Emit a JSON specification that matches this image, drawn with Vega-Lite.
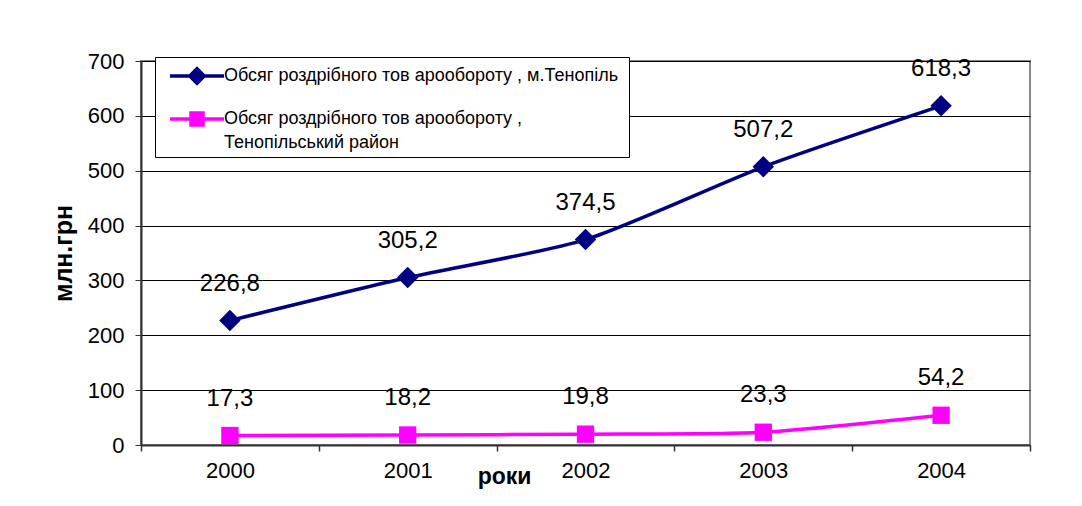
{
  "$schema": "https://vega.github.io/schema/vega-lite/v6.json",
  "width": 889,
  "height": 384,
  "autosize": {"type": "none"},
  "padding": {"left": 141, "top": 61, "right": 52, "bottom": 61},
  "background": "white",
  "config": {
    "font": "Liberation Sans",
    "locale": {"number": {"decimal": ",", "thousands": " ", "grouping": [3], "currency": ["", ""]}},
    "view": {"stroke": "#888888", "strokeWidth": 2}
  },
  "data": {
    "values": [
      {"year": "2000", "series": "Обсяг роздрібного тов арообороту ,  м.Тенопіль", "value": 226.8},
      {"year": "2001", "series": "Обсяг роздрібного тов арообороту ,  м.Тенопіль", "value": 305.2},
      {"year": "2002", "series": "Обсяг роздрібного тов арообороту ,  м.Тенопіль", "value": 374.5},
      {"year": "2003", "series": "Обсяг роздрібного тов арообороту ,  м.Тенопіль", "value": 507.2},
      {"year": "2004", "series": "Обсяг роздрібного тов арообороту ,  м.Тенопіль", "value": 618.3},
      {"year": "2000", "series": "Обсяг роздрібного тов арообороту , Тенопільський район", "value": 17.3},
      {"year": "2001", "series": "Обсяг роздрібного тов арообороту , Тенопільський район", "value": 18.2},
      {"year": "2002", "series": "Обсяг роздрібного тов арообороту , Тенопільський район", "value": 19.8},
      {"year": "2003", "series": "Обсяг роздрібного тов арообороту , Тенопільський район", "value": 23.3},
      {"year": "2004", "series": "Обсяг роздрібного тов арообороту , Тенопільський район", "value": 54.2}
    ]
  },
  "encoding": {
    "x": {
      "field": "year",
      "type": "ordinal",
      "scale": {"paddingInner": 0, "paddingOuter": 0},
      "axis": {
        "title": "роки",
        "titleFontSize": 23,
        "titleFontWeight": "bold",
        "titleColor": "black",
        "titleX": 363,
        "titleY": 31,
        "titleAlign": "center",
        "titleBaseline": "middle",
        "labelAngle": 0,
        "labelFontSize": 22,
        "labelColor": "black",
        "labelPadding": 9,
        "tickBand": "extent",
        "tickSize": 6,
        "tickColor": "#333333",
        "tickWidth": 1.5,
        "domainColor": "#333333",
        "domainWidth": 2,
        "grid": false
      }
    },
    "y": {
      "field": "value",
      "type": "quantitative",
      "scale": {"domain": [0, 700], "nice": false},
      "axis": {
        "title": "млн.грн",
        "titleFontSize": 25,
        "titleFontWeight": "bold",
        "titleColor": "black",
        "titleX": -78,
        "titleY": 192,
        "titleAngle": -90,
        "titleAlign": "center",
        "titleBaseline": "middle",
        "values": [0, 100, 200, 300, 400, 500, 600, 700],
        "labelFontSize": 22,
        "labelColor": "black",
        "labelPadding": 11,
        "tickSize": 6,
        "tickColor": "#333333",
        "domainColor": "#333333",
        "domainWidth": 2,
        "grid": true,
        "gridColor": "black",
        "gridWidth": 1
      }
    }
  },
  "layer": [
    {
      "mark": {"type": "line", "strokeWidth": 3.5, "interpolate": "cardinal", "tension": 0.3},
      "encoding": {
        "color": {
          "field": "series",
          "type": "nominal",
          "sort": null,
          "scale": {
            "domain": ["Обсяг роздрібного тов арообороту ,  м.Тенопіль", "Обсяг роздрібного тов арообороту , Тенопільський район"],
            "range": ["#000080", "#FF00FF"]
          },
          "legend": {
            "title": null,
            "orient": "none",
            "legendX": 14,
            "legendY": -4,
            "padding": 5,
            "fillColor": "white",
            "strokeColor": "black",
            "symbolSize": 576,
            "symbolOffset": 23,
            "symbolStrokeWidth": 3.5,
            "labelOffset": 13,
            "labelFontSize": 18,
            "labelColor": "black",
            "labelLimit": 600,
            "rowPadding": 14,
            "labelExpr": "indexof(datum.value, 'район') > 0 ? ['Обсяг роздрібного тов арообороту ,', 'Тенопільський район'] : datum.label",
            "encode": {
              "symbols": {
                "update": {
                  "shape": {"signal": "indexof(datum.value, 'район') > 0 ? 'M-2.25,0L2.25,0M-0.5,-0.5L0.5,-0.5L0.5,0.5L-0.5,0.5Z' : 'M-2.25,0L2.25,0M0,-0.6L0.6,0L0,0.6L-0.6,0Z'"},
                  "fill": {"signal": "indexof(datum.value, 'район') > 0 ? '#FF00FF' : '#000080'"},
                  "stroke": {"signal": "indexof(datum.value, 'район') > 0 ? '#FF00FF' : '#000080'"}
                }
              },
              "labels": {
                "update": {
                  "lineHeight": {"signal": "24"}
                }
              }
            }
          }
        }
      }
    },
    {
      "transform": [{"filter": "indexof(datum.series, 'район') < 0"}],
      "mark": {"type": "point", "shape": "diamond", "filled": true, "opacity": 1, "color": "#000080", "size": 460}
    },
    {
      "transform": [{"filter": "indexof(datum.series, 'район') > 0"}],
      "mark": {"type": "point", "shape": "square", "filled": true, "opacity": 1, "color": "#FF00FF", "size": 300}
    },
    {
      "mark": {"type": "text", "dy": -37, "fontSize": 24, "color": "black", "baseline": "middle", "align": "center"},
      "encoding": {
        "text": {"field": "value", "type": "quantitative", "format": ".1f"}
      }
    }
  ]
}
